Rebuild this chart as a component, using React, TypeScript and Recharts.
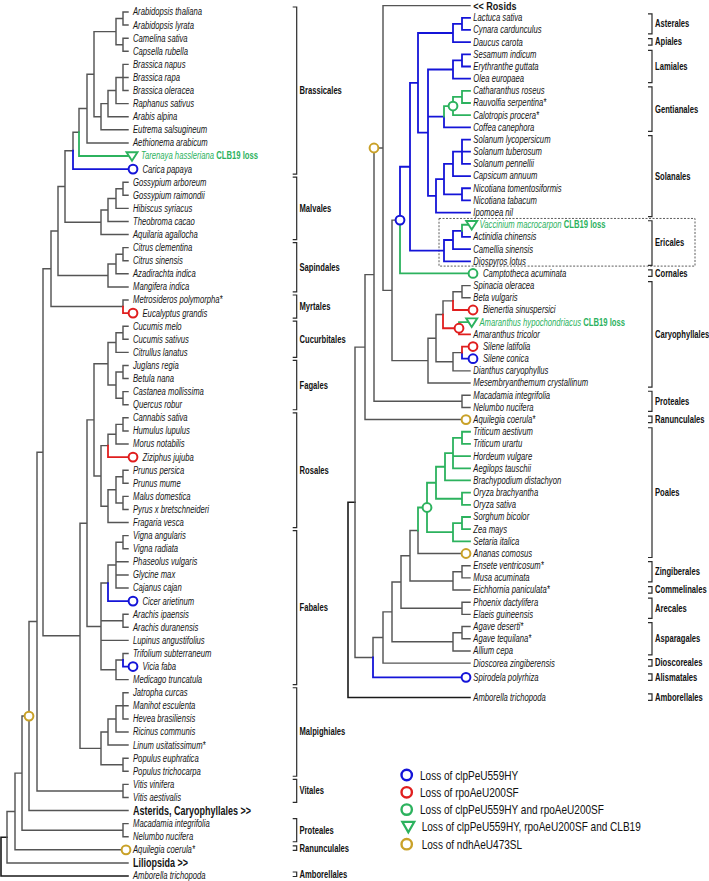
import React from 'react';
import { ComposedChart, Line, Scatter, XAxis, YAxis, Legend } from 'recharts';

type NodeRow = [string, string, number];
type LeafRow = [string, string];
type MarkRow = [string, string, string, string];

// ---------------- LEFT TREE (Rosids etc.) ----------------
// [node id, parent id, branch depth from root]
const LEFT_NODES: NodeRow[] = [
  ['root', '', 0],
  ['R1', 'root', 6], ['R2', 'R1', 14], ['R3', 'R2', 21], ['R4', 'R3', 28], ['R5', 'R4', 36],
  ['R6', 'R5', 42], ['R7', 'R6', 50], ['R9', 'R7', 57], ['R10', 'R9', 64], ['R11', 'R10', 72],
  ['R12', 'R11', 78], ['N6', 'R12', 86], ['N5', 'N6', 93], ['ArabCam', 'N5', 115],
  ['ArabPair', 'ArabCam', 122], ['CamPair', 'ArabCam', 122], ['N4', 'N5', 100], ['N3', 'N4', 107],
  ['N2', 'N3', 115], ['N1', 'N2', 122],
  ['Malv4', 'R10', 100], ['Malv3', 'Malv4', 107], ['Malv2', 'Malv3', 115], ['Malv1', 'Malv2', 122],
  ['Sap3', 'R9', 107], ['Sap2', 'Sap3', 115], ['Sap1', 'Sap2', 122],
  ['Myrt', 'R7', 122],
  ['R8', 'R6', 79], ['R14', 'R8', 86], ['R15', 'R14', 93], ['R16', 'R15', 107],
  ['Cuc2', 'R16', 115], ['Cuc1', 'Cuc2', 122], ['Fag3', 'R16', 115], ['Fag1', 'Fag3', 122], ['Fag2', 'Fag3', 122],
  ['Ros0', 'R15', 100], ['Ros3', 'Ros0', 107], ['Ros2', 'Ros3', 115], ['Ros1', 'Ros2', 122],
  ['Ros7', 'Ros0', 107], ['Ros6', 'Ros7', 115], ['Ros4', 'Ros6', 122], ['Ros5', 'Ros6', 122],
  ['Fab0', 'R14', 100], ['Fab3', 'Fab0', 107], ['Fab2', 'Fab3', 115], ['Fab1', 'Fab2', 122],
  ['Fab4', 'Fab0', 122], ['Fab6', 'Fab0', 115], ['Fab5', 'Fab6', 122],
  ['Mal0', 'R8', 100], ['Mal3', 'Mal0', 107], ['Mal2', 'Mal3', 115], ['Mal1', 'Mal2', 122], ['Mal4', 'Mal0', 122],
  ['Vit', 'R5', 122], ['Prot', 'R3', 122],
];
const LEFT_TIP = 127;
// [leaf name, parent] in display order
const LEFT_LEAVES: LeafRow[] = [
  ['Arabidopsis thaliana', 'ArabPair'], ['Arabidopsis lyrata', 'ArabPair'],
  ['Camelina sativa', 'CamPair'], ['Capsella rubella', 'CamPair'],
  ['Brassica napus', 'N1'], ['Brassica rapa', 'N1'], ['Brassica oleracea', 'N1'],
  ['Raphanus sativus', 'N2'], ['Arabis alpina', 'N3'], ['Eutrema salsugineum', 'N4'],
  ['Aethionema arabicum', 'N6'], ['Tarenaya hassleriana', 'R12'], ['Carica papaya', 'R11'],
  ['Gossypium arboreum', 'Malv1'], ['Gossypium raimondii', 'Malv1'], ['Hibiscus syriacus', 'Malv2'],
  ['Theobroma cacao', 'Malv3'], ['Aquilaria agallocha', 'Malv4'],
  ['Citrus clementina', 'Sap1'], ['Citrus sinensis', 'Sap1'], ['Azadirachta indica', 'Sap2'], ['Mangifera indica', 'Sap3'],
  ['Metrosideros polymorpha*', 'Myrt'], ['Eucalyptus grandis', 'Myrt'],
  ['Cucumis melo', 'Cuc1'], ['Cucumis sativus', 'Cuc1'], ['Citrullus lanatus', 'Cuc2'],
  ['Juglans regia', 'Fag1'], ['Betula nana', 'Fag1'], ['Castanea mollissima', 'Fag2'], ['Quercus robur', 'Fag2'],
  ['Cannabis sativa', 'Ros1'], ['Humulus lupulus', 'Ros1'], ['Morus notabilis', 'Ros2'], ['Ziziphus jujuba', 'Ros3'],
  ['Prunus persica', 'Ros4'], ['Prunus mume', 'Ros4'], ['Malus domestica', 'Ros5'], ['Pyrus x bretschneideri', 'Ros5'],
  ['Fragaria vesca', 'Ros7'],
  ['Vigna angularis', 'Fab1'], ['Vigna radiata', 'Fab1'], ['Phaseolus vulgaris', 'Fab2'], ['Glycine max', 'Fab2'],
  ['Cajanus cajan', 'Fab2'], ['Cicer arietinum', 'Fab3'], ['Arachis ipaensis', 'Fab4'], ['Arachis duranensis', 'Fab4'],
  ['Lupinus angustifolius', 'Fab0'], ['Trifolium subterraneum', 'Fab5'], ['Vicia faba', 'Fab5'], ['Medicago truncatula', 'Fab6'],
  ['Jatropha curcas', 'Mal1'], ['Manihot esculenta', 'Mal1'], ['Hevea brasiliensis', 'Mal1'], ['Ricinus communis', 'Mal2'],
  ['Linum usitatissimum*', 'Mal3'], ['Populus euphratica', 'Mal4'], ['Populus trichocarpa', 'Mal4'],
  ['Vitis vinifera', 'Vit'], ['Vitis aestivalis', 'Vit'],
  ['Asterids, Caryophyllales >>', 'R4'],
  ['Macadamia integrifolia', 'Prot'], ['Nelumbo nucifera', 'Prot'],
  ['Aquilegia coerula*', 'R2'], ['Liliopsida >>', 'R1'], ['Amborella trichopoda', 'root'],
];
const LEFT_EDGE_COLORS: [string, string][] = [
  ['Tarenaya hassleriana', 'g'], ['Carica papaya', 'b'], ['Eucalyptus grandis', 'r'],
  ['Ziziphus jujuba', 'r'], ['Cicer arietinum', 'b'], ['Vicia faba', 'b'],
];
const LEFT_BELOW_COLORS: [string, string][] = [];
// [target, shape, colour, placement]
const LEFT_MARKERS: MarkRow[] = [
  ['Tarenaya hassleriana', 'tri', 'g', 'tip'], ['Carica papaya', 'circle', 'b', 'tip'],
  ['Eucalyptus grandis', 'circle', 'r', 'tip'], ['Ziziphus jujuba', 'circle', 'r', 'tip'],
  ['Cicer arietinum', 'circle', 'b', 'tip'], ['Vicia faba', 'circle', 'b', 'tip'],
  ['R4', 'circle', 'o', 'node'], ['Aquilegia coerula*', 'circle', 'o', 'inset'],
];
const LEFT_CLADES: [string, string, string][] = [
  ['Brassicales', 'Arabidopsis thaliana', 'Carica papaya'],
  ['Malvales', 'Gossypium arboreum', 'Aquilaria agallocha'],
  ['Sapindales', 'Citrus clementina', 'Mangifera indica'],
  ['Myrtales', 'Metrosideros polymorpha*', 'Eucalyptus grandis'],
  ['Cucurbitales', 'Cucumis melo', 'Citrullus lanatus'],
  ['Fagales', 'Juglans regia', 'Quercus robur'],
  ['Rosales', 'Cannabis sativa', 'Fragaria vesca'],
  ['Fabales', 'Vigna angularis', 'Medicago truncatula'],
  ['Malpighiales', 'Jatropha curcas', 'Populus trichocarpa'],
  ['Vitales', 'Vitis vinifera', 'Vitis aestivalis'],
  ['Proteales', 'Macadamia integrifolia', 'Nelumbo nucifera'],
  ['Ranunculales', 'Aquilegia coerula*', 'Aquilegia coerula*'],
  ['Amborellales', 'Amborella trichopoda', 'Amborella trichopoda'],
];

// ---------------- RIGHT TREE (Asterids, Caryophyllales, monocots) ----------------
const RIGHT_NODES: NodeRow[] = [
  ['root', '', 0],
  ['Z', 'root', 7], ['Q', 'Z', 17], ['P', 'Q', 26], ['B', 'P', 35], ['AC', 'B', 44],
  ['A0', 'AC', 52], ['A1', 'A0', 62], ['A2', 'A1', 70],
  ['Camp', 'A2', 105], ['AstPair', 'Camp', 114],
  ['L0', 'A2', 80], ['Lam2', 'L0', 105], ['Lam1', 'Lam2', 114],
  ['Gen3', 'L0', 96], ['Gen2', 'Gen3', 105], ['Gen1', 'Gen2', 114],
  ['S0', 'L0', 88], ['Sol4', 'S0', 96], ['Sol2', 'Sol4', 105], ['Sol1', 'Sol2', 114], ['Nic', 'Sol4', 114],
  ['Eri3', 'A1', 96], ['Eri2', 'Eri3', 105], ['Eri1', 'Eri2', 114],
  ['Car0', 'AC', 80], ['CarM', 'Car0', 88], ['CarL', 'CarM', 95], ['CarK', 'CarL', 105],
  ['SpinBeta', 'CarK', 114], ['Amar', 'CarL', 111], ['Sil2', 'CarM', 105], ['Sil1', 'Sil2', 114],
  ['Prot', 'P', 114],
  ['M1', 'Z', 25], ['M2', 'M1', 35], ['M3', 'M2', 44], ['M4', 'M3', 53], ['M5', 'M4', 62],
  ['Poa0', 'M5', 70], ['Poa1', 'Poa0', 79], ['BOP', 'Poa1', 88], ['Poo2', 'BOP', 97], ['Poo1', 'Poo2', 105],
  ['Trit', 'Poo1', 114], ['Ory', 'BOP', 114], ['PAC2', 'Poa1', 105], ['PAC1', 'PAC2', 114],
  ['Zing2', 'M5', 105], ['Zing1', 'Zing2', 114], ['Are', 'M4', 114], ['Asp2', 'M3', 105], ['Asp1', 'Asp2', 114],
];
const RIGHT_TIP = 122;
const RIGHT_LEAVES: LeafRow[] = [
  ['<< Rosids', 'B'],
  ['Lactuca sativa', 'AstPair'], ['Cynara cardunculus', 'AstPair'], ['Daucus carota', 'Camp'],
  ['Sesamum indicum', 'Lam1'], ['Erythranthe guttata', 'Lam1'], ['Olea europaea', 'Lam2'],
  ['Catharanthus roseus', 'Gen1'], ['Rauvolfia serpentina*', 'Gen1'], ['Calotropis procera*', 'Gen2'], ['Coffea canephora', 'Gen3'],
  ['Solanum lycopersicum', 'Sol1'], ['Solanum tuberosum', 'Sol1'], ['Solanum pennellii', 'Sol1'], ['Capsicum annuum', 'Sol2'],
  ['Nicotiana tomentosiformis', 'Nic'], ['Nicotiana tabacum', 'Nic'], ['Ipomoea nil', 'S0'],
  ['Vaccinium macrocarpon', 'Eri1'], ['Actinidia chinensis', 'Eri1'], ['Camellia sinensis', 'Eri2'], ['Diospyros lotus', 'Eri3'],
  ['Camptotheca acuminata', 'A0'],
  ['Spinacia oleracea', 'SpinBeta'], ['Beta vulgaris', 'SpinBeta'], ['Bienertia sinuspersici', 'CarK'],
  ['Amaranthus hypochondriacus', 'Amar'], ['Amaranthus tricolor', 'Amar'],
  ['Silene latifolia', 'Sil1'], ['Silene conica', 'Sil1'], ['Dianthus caryophyllus', 'Sil2'],
  ['Mesembryanthemum crystallinum', 'Car0'],
  ['Macadamia integrifolia', 'Prot'], ['Nelumbo nucifera', 'Prot'], ['Aquilegia coerula*', 'Q'],
  ['Triticum aestivum', 'Trit'], ['Triticum urartu', 'Trit'], ['Hordeum vulgare', 'Poo1'], ['Aegilops tauschii', 'Poo1'],
  ['Brachypodium distachyon', 'Poo2'], ['Oryza brachyantha', 'Ory'], ['Oryza sativa', 'Ory'],
  ['Sorghum bicolor', 'PAC1'], ['Zea mays', 'PAC1'], ['Setaria italica', 'PAC2'], ['Ananas comosus', 'Poa0'],
  ['Ensete ventricosum*', 'Zing1'], ['Musa acuminata', 'Zing1'], ['Eichhornia paniculata*', 'Zing2'],
  ['Phoenix dactylifera', 'Are'], ['Elaeis guineensis', 'Are'],
  ['Agave deserti*', 'Asp1'], ['Agave tequilana*', 'Asp1'], ['Allium cepa', 'Asp2'],
  ['Dioscorea zingiberensis', 'M2'], ['Spirodela polyrhiza', 'M1'], ['Amborella trichopoda', 'root'],
];
const RIGHT_EDGE_COLORS: [string, string][] = [
  ['Gen2', 'g'], ['Vaccinium macrocarpon', 'g'], ['Camptotheca acuminata', 'g'],
  ['Bienertia sinuspersici', 'r'], ['Amar', 'r'], ['Amaranthus hypochondriacus', 'g'],
  ['Silene latifolia', 'r'], ['Silene conica', 'b'], ['Poa1', 'g'], ['Spirodela polyrhiza', 'b'],
];
const RIGHT_BELOW_COLORS: [string, string][] = [['A0', 'b']];
const RIGHT_MARKERS: MarkRow[] = [
  ['B', 'circle', 'o', 'start'], ['A0', 'circle', 'b', 'node'], ['Gen2', 'circle', 'g', 'node'],
  ['Vaccinium macrocarpon', 'tri', 'g', 'tip'], ['Camptotheca acuminata', 'circle', 'g', 'tip'],
  ['Bienertia sinuspersici', 'circle', 'r', 'tip'], ['Amar', 'circle', 'r', 'node'],
  ['Amaranthus hypochondriacus', 'tri', 'g', 'tip'], ['Silene latifolia', 'circle', 'r', 'tip'],
  ['Silene conica', 'circle', 'b', 'tip'], ['Aquilegia coerula*', 'circle', 'o', 'inset'],
  ['Poa1', 'circle', 'g', 'node'], ['Ananas comosus', 'circle', 'o', 'inset'],
  ['Spirodela polyrhiza', 'circle', 'b', 'inset'],
];
const RIGHT_CLADES: [string, string, string][] = [
  ['Asterales', 'Lactuca sativa', 'Cynara cardunculus'],
  ['Apiales', 'Daucus carota', 'Daucus carota'],
  ['Lamiales', 'Sesamum indicum', 'Olea europaea'],
  ['Gentianales', 'Catharanthus roseus', 'Coffea canephora'],
  ['Solanales', 'Solanum lycopersicum', 'Ipomoea nil'],
  ['Ericales', 'Vaccinium macrocarpon', 'Diospyros lotus'],
  ['Cornales', 'Camptotheca acuminata', 'Camptotheca acuminata'],
  ['Caryophyllales', 'Spinacia oleracea', 'Mesembryanthemum crystallinum'],
  ['Proteales', 'Macadamia integrifolia', 'Nelumbo nucifera'],
  ['Ranunculales', 'Aquilegia coerula*', 'Aquilegia coerula*'],
  ['Poales', 'Triticum aestivum', 'Ananas comosus'],
  ['Zingiberales', 'Ensete ventricosum*', 'Musa acuminata'],
  ['Commelinales', 'Eichhornia paniculata*', 'Eichhornia paniculata*'],
  ['Arecales', 'Phoenix dactylifera', 'Elaeis guineensis'],
  ['Asparagales', 'Agave deserti*', 'Allium cepa'],
  ['Dioscoreales', 'Dioscorea zingiberensis', 'Dioscorea zingiberensis'],
  ['Alismatales', 'Spirodela polyrhiza', 'Spirodela polyrhiza'],
  ['Amborellales', 'Amborella trichopoda', 'Amborella trichopoda'],
];
const BOXED_CLADE: [string, string, string] = ['Eri3', 'Vaccinium macrocarpon', 'Diospyros lotus'];

const BOLD_LEAVES = ['Asterids, Caryophyllales >>', 'Liliopsida >>', '<< Rosids'];
const CLB19_LEAVES = ['Tarenaya hassleriana', 'Vaccinium macrocarpon', 'Amaranthus hypochondriacus'];

const LEGEND_LABELS = [
  'Loss of clpPeU559HY',
  'Loss of rpoAeU200SF',
  'Loss of clpPeU559HY and rpoAeU200SF',
  'Loss of clpPeU559HY, rpoAeU200SF and CLB19',
  'Loss of ndhAeU473SL',
];
const LEGEND_SHAPES = ['circle', 'circle', 'circle', 'tri', 'circle'];
const LEGEND_COLORS = ['b', 'r', 'g', 'g', 'o'];

// ---------------- styling / layout ----------------
const W = 709;
const H = 881;
const PALETTE: Record<string, string> = {
  k: '#555555', K: '#1a1a1a', b: '#1414d8', r: '#e01e1e', g: '#2cb25e', o: '#c9a128', br: '#2a2a2a',
};
const FONT = '"Liberation Sans", Arial, Helvetica, sans-serif';
const LEAF_SIZE = 10.4;
const LEAF_SX = 0.74;

const PANELS: Record<string, any> = {
  L: {
    rootPx: 1, top: 12, step: (876 - 12) / 66, textDx: 5, tipMarkDx: 5, tipTextDx: 14.5,
    triDx: 4, triTextDx: 13, insetDx: -2, bracketPx: 296.7, labelPx: 299.5, padPx: 5, sTop: 4, sBot: 0.5,
    boldSize: 12, boldSx: 0.75,
    extra: {} as Record<string, number>,
  },
  R: {
    rootPx: 348, top: 5.6, step: (663.1 - 5.6) / 54, textDx: 3.3, tipMarkDx: 3, tipTextDx: 13,
    triDx: 1.7, triTextDx: 9.5, insetDx: -4, bracketPx: 652, labelPx: 655, padPx: 4, sTop: 3.5, sBot: 3,
    boldSize: 10.5, boldSx: 0.86,
    extra: { 'Spirodela polyrhiza': 0.17, 'Amborella trichopoda': 0.82 } as Record<string, number>,
  },
};

function buildPanel(side: string, nodes: NodeRow[], leaves: LeafRow[], tip: number,
  edgeColors: [string, string][], belowColors: [string, string][], markers: MarkRow[],
  clades: [string, string, string][]) {
  const P = PANELS[side];
  const parent: Record<string, string> = {};
  const kids: Record<string, string[]> = {};
  const pos: Record<string, { x: number; y: number }> = {};
  nodes.forEach(([id, p, d]) => {
    parent[id] = p;
    pos[id] = { x: d, y: NaN };
    if (p) (kids[p] = kids[p] || []).push(id);
  });
  leaves.forEach(([n, p], i) => {
    parent[n] = p;
    pos[n] = { x: tip, y: i + (P.extra[n] || 0) };
    (kids[p] = kids[p] || []).push(n);
  });
  const yOf = (id: string): number => {
    if (!Number.isNaN(pos[id].y)) return pos[id].y;
    const ys = (kids[id] || []).map(yOf);
    pos[id].y = (Math.min(...ys) + Math.max(...ys)) / 2;
    return pos[id].y;
  };
  nodes.forEach(([id]) => yOf(id));

  const ec = new Map(edgeColors);
  const bc = new Map(belowColors);
  const colorOf = (id: string): string => ec.get(id) ?? (parent[id] ? childColor(parent[id]) : 'k');
  const childColor = (id: string): string => bc.get(id) ?? (parent[id] ? colorOf(id) : 'k');

  const groups: Record<string, any[]> = {};
  Object.keys(parent).forEach((id) => {
    const p = parent[id];
    if (!p) return;
    const a = pos[p];
    const c = pos[id];
    const key = p === 'root' ? 'K' : colorOf(id);
    const arr = (groups[key] = groups[key] || []);
    arr.push({ x: a.x, y: a.y }, { x: a.x, y: c.y }, { x: c.x, y: c.y }, { x: null, y: null });
  });

  const markAt: Record<string, string> = {};
  const markShape: Record<string, string> = {};
  const marks = markers.map(([t, shape, color, place]) => {
    const c = pos[t];
    let x = c.x;
    let dx = 0;
    if (place === 'start') x = pos[parent[t]].x;
    if (place === 'tip') dx = shape === 'tri' ? P.triDx : P.tipMarkDx;
    if (place === 'inset') dx = P.insetDx;
    markAt[t] = place;
    markShape[t] = shape;
    return { x, y: c.y, shape, color, dx };
  });

  const labels = leaves.map(([n]) => {
    let dx = P.textDx;
    if (markAt[n] === 'tip') dx = markShape[n] === 'tri' ? P.triTextDx : P.tipTextDx;
    const bold = BOLD_LEAVES.includes(n);
    return {
      x: tip, y: pos[n].y, name: n, dx, bold, clb: CLB19_LEAVES.includes(n),
      size: bold ? P.boldSize : LEAF_SIZE, sx: bold ? P.boldSx : LEAF_SX,
    };
  });

  const bx = P.bracketPx - P.rootPx;
  const pad = P.padPx / P.step;
  const brackets: any[] = [];
  const cladeLabels: any[] = [];
  clades.forEach(([label, a, b]) => {
    let y0 = pos[a].y - pad;
    let y1 = pos[b].y + pad;
    if (a === b) {
      y0 = pos[a].y - P.sTop / P.step;
      y1 = pos[a].y + P.sBot / P.step;
    }
    brackets.push({ x: bx - 4, y: y0 }, { x: bx, y: y0 }, { x: bx, y: y1 }, { x: bx - 4, y: y1 }, { x: null, y: null });
    cladeLabels.push({ x: P.labelPx - P.rootPx, y: (y0 + y1) / 2, name: label });
  });

  return { pos, groups, marks, labels, brackets, cladeLabels };
}

const LEFT = buildPanel('L', LEFT_NODES, LEFT_LEAVES, LEFT_TIP, LEFT_EDGE_COLORS, LEFT_BELOW_COLORS, LEFT_MARKERS, LEFT_CLADES);
const RIGHT = buildPanel('R', RIGHT_NODES, RIGHT_LEAVES, RIGHT_TIP, RIGHT_EDGE_COLORS, RIGHT_BELOW_COLORS, RIGHT_MARKERS, RIGHT_CLADES);

// dotted box around Ericales
const boxData = (() => {
  const P = PANELS.R;
  const [node, a, b] = BOXED_CLADE;
  const x0 = RIGHT.pos[node].x - 5;
  const x1 = 695 - P.rootPx;
  const y0 = RIGHT.pos[a].y - 6.3 / P.step;
  const y1 = RIGHT.pos[b].y + 4.8 / P.step;
  return [{ x: x0, y: y0 }, { x: x1, y: y0 }, { x: x1, y: y1 }, { x: x0, y: y1 }, { x: x0, y: y0 }];
})();

function Marker(props: any) {
  const d = props.payload || props;
  const { cx, cy } = props;
  if (cx == null || cy == null || Number.isNaN(cx)) return <g />;
  const x = cx + (d.dx || 0);
  const col = PALETTE[d.color];
  if (d.shape === 'tri') {
    return (
      <path d={`M${x - 5.5},${cy - 3.8} L${x + 5.5},${cy - 3.8} L${x},${cy + 4.8} Z`}
        fill="#fff" stroke={col} strokeWidth={1.9} strokeLinejoin="miter" />
    );
  }
  return <circle cx={x} cy={cy} r={4.4} fill="#fff" stroke={col} strokeWidth={2} />;
}

function LeafText(props: any) {
  const d = props.payload || props;
  const { cx, cy } = props;
  if (cx == null || cy == null || Number.isNaN(cx)) return <g />;
  const x = cx + d.dx;
  // keep the text box inside the picture at the very top
  const ty = Math.max(cy, d.size * 0.57);
  return (
    <text transform={`translate(${x},${ty}) scale(${d.sx},1)`} x={0} y={0}
      dominantBaseline="central" fontFamily={FONT}
      fontSize={d.size} fontStyle={d.bold ? 'normal' : 'italic'}
      fontWeight={d.bold ? 700 : 400} fill={d.clb ? PALETTE.g : '#141414'}>
      {d.name}
      {d.clb ? <tspan fontStyle="normal" fontWeight={700}> CLB19 loss</tspan> : null}
    </text>
  );
}

function CladeText(props: any) {
  const d = props.payload || props;
  const { cx, cy } = props;
  if (cx == null || cy == null || Number.isNaN(cx)) return <g />;
  return (
    <text transform={`translate(${cx},${cy}) scale(0.72,1)`} x={0} y={0} dominantBaseline="central"
      fontFamily={FONT} fontSize={10.6} fontWeight={700} fill="#111">
      {d.name}
    </text>
  );
}

function LegendBox() {
  return (
    <svg width={310} height={92} style={{ overflow: 'visible' }}>
      {LEGEND_LABELS.map((lab, i) => {
        const y = 10 + i * 17.3;
        const col = PALETTE[LEGEND_COLORS[i]];
        const isTri = LEGEND_SHAPES[i] === 'tri';
        const ix = isTri ? 10.3 : 8.7;
        return (
          <g key={lab}>
            {isTri ? (
              <path d={`M${ix - 6},${y - 5} L${ix + 6},${y - 5} L${ix},${y + 5.5} Z`} fill="#fff" stroke={col} strokeWidth={2.2} />
            ) : (
              <circle cx={ix} cy={y} r={5.2} fill="#fff" stroke={col} strokeWidth={2.4} />
            )}
            <text transform={`translate(${i >= 3 ? 23.7 : 22},${y}) scale(0.75,1)`} dominantBaseline="central"
              fontFamily={FONT} fontSize={13.4} fill="#111">{lab}</text>
          </g>
        );
      })}
    </svg>
  );
}

function seriesFor(side: string, panel: any) {
  const out: any[] = [];
  Object.keys(panel.groups).forEach((key) => {
    const colored = key !== 'k' && key !== 'K';
    out.push(
      <Line key={`${side}-e-${key}`} xAxisId={side} yAxisId={side} data={panel.groups[key]} dataKey="y"
        type="linear" stroke={PALETTE[key]} strokeWidth={colored ? 1.8 : key === 'K' ? 1.6 : 1.45}
        dot={false} activeDot={false} connectNulls={false} isAnimationActive={false}
        legendType="none" strokeLinejoin="miter" strokeLinecap="square" />,
    );
  });
  out.push(
    <Line key={`${side}-br`} xAxisId={side} yAxisId={side} data={panel.brackets} dataKey="y" type="linear"
      stroke={PALETTE.br} strokeWidth={1.2} dot={false} activeDot={false} connectNulls={false}
      isAnimationActive={false} legendType="none" />,
  );
  out.push(
    <Scatter key={`${side}-mk`} xAxisId={side} yAxisId={side} data={panel.marks} shape={Marker}
      isAnimationActive={false} legendType="none" />,
  );
  out.push(
    <Scatter key={`${side}-lb`} xAxisId={side} yAxisId={side} data={panel.labels} shape={LeafText}
      isAnimationActive={false} legendType="none" />,
  );
  out.push(
    <Scatter key={`${side}-cl`} xAxisId={side} yAxisId={side} data={panel.cladeLabels} shape={CladeText}
      isAnimationActive={false} legendType="none" />,
  );
  return out;
}

export default function App() {
  const L = PANELS.L;
  const R = PANELS.R;
  return (
    <div style={{ position: 'absolute', left: 0, top: 0, width: W, height: H, background: '#fff' }}>
      <ComposedChart width={W} height={H} margin={{ top: 0, right: 0, bottom: 0, left: 0 }}>
        <XAxis xAxisId="L" type="number" dataKey="x" domain={[-L.rootPx, W - L.rootPx]} hide allowDataOverflow />
        <XAxis xAxisId="R" type="number" dataKey="x" domain={[-R.rootPx, W - R.rootPx]} hide allowDataOverflow />
        <YAxis yAxisId="L" type="number" dataKey="y" reversed hide allowDataOverflow
          domain={[-L.top / L.step, (H - L.top) / L.step]} />
        <YAxis yAxisId="R" type="number" dataKey="y" reversed hide allowDataOverflow
          domain={[-R.top / R.step, (H - R.top) / R.step]} />
        <Line xAxisId="R" yAxisId="R" data={boxData} dataKey="y" type="linear" stroke="#333"
          strokeWidth={0.8} strokeDasharray="2 1.5" dot={false} activeDot={false}
          isAnimationActive={false} legendType="none" />
        {seriesFor('L', LEFT)}
        {seriesFor('R', RIGHT)}
        <Legend layout="vertical" align="center" verticalAlign="middle" content={() => <LegendBox />}
          wrapperStyle={{ left: 398, top: 765, width: 310, height: 92 }} />
      </ComposedChart>
    </div>
  );
}
